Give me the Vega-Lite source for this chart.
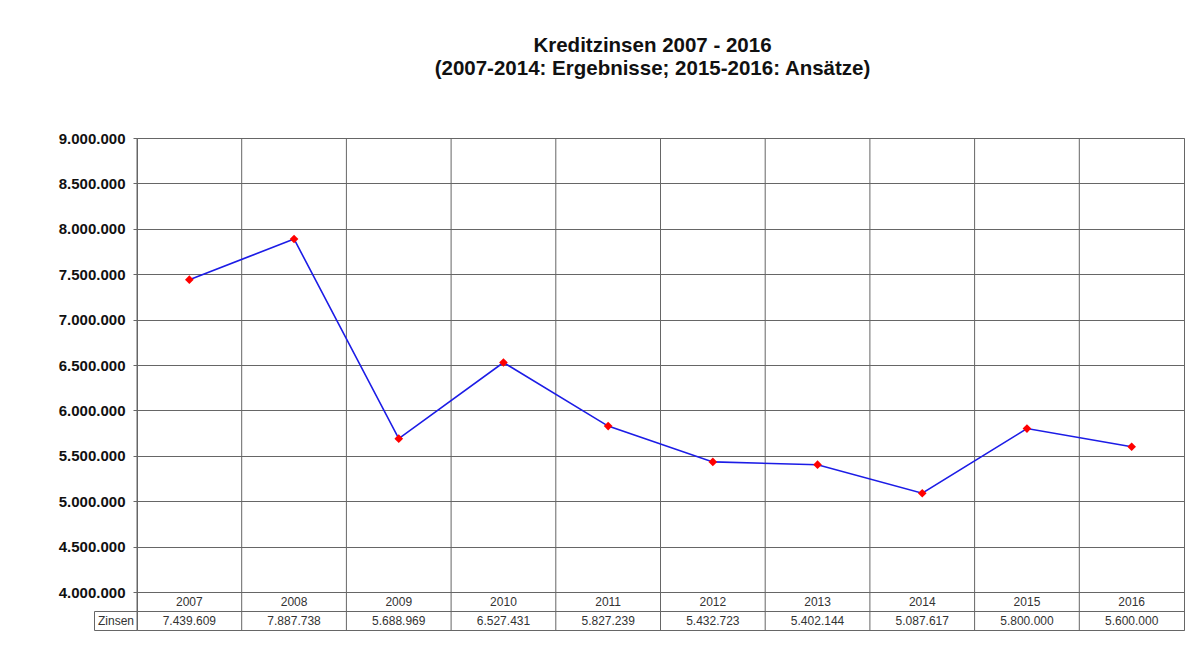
{
  "$schema": "https://vega.github.io/schema/vega-lite/v6.json",
  "width": 1047,
  "height": 492,
  "autosize": {"type": "none"},
  "padding": {"left": 137, "top": 138, "right": 20, "bottom": 29},
  "background": "white",
  "config": {
    "locale": {"number": {"decimal": ",", "thousands": ".", "grouping": [3], "currency": ["", " €"]}},
    "view": {"stroke": "#666666", "strokeWidth": 1},
    "font": "Liberation Sans"
  },
  "title": {
    "text": ["Kreditzinsen 2007 - 2016", "(2007-2014: Ergebnisse; 2015-2016: Ansätze)"],
    "font": "Liberation Sans",
    "fontSize": 20.5,
    "fontWeight": "bold",
    "color": "#111111",
    "lineHeight": 23,
    "anchor": "middle",
    "frame": "group",
    "dx": -8,
    "offset": 52
  },
  "data": {
    "values": [
      {"Jahr": "2007", "Zinsen": 7439609},
      {"Jahr": "2008", "Zinsen": 7887738},
      {"Jahr": "2009", "Zinsen": 5688969},
      {"Jahr": "2010", "Zinsen": 6527431},
      {"Jahr": "2011", "Zinsen": 5827239},
      {"Jahr": "2012", "Zinsen": 5432723},
      {"Jahr": "2013", "Zinsen": 5402144},
      {"Jahr": "2014", "Zinsen": 5087617},
      {"Jahr": "2015", "Zinsen": 5800000},
      {"Jahr": "2016", "Zinsen": 5600000}
    ]
  },
  "layer": [
    {
      "mark": {"type": "rule", "color": "#666666", "strokeWidth": 1},
      "encoding": {
        "x": {"field": "Jahr", "type": "ordinal", "bandPosition": 0, "axis": null}
      }
    },
    {
      "layer": [
        {"mark": {"type": "line", "color": "#1c1ce6", "strokeWidth": 1.6}},
        {"mark": {"type": "point", "shape": "diamond", "filled": true, "color": "#ff0000", "size": 75, "opacity": 1}}
      ],
      "encoding": {
        "x": {
          "field": "Jahr",
          "type": "ordinal",
          "scale": {"paddingInner": 0, "paddingOuter": 0},
          "axis": null
        },
        "y": {
          "field": "Zinsen",
          "type": "quantitative",
          "scale": {"domain": [4000000, 9000000], "range": [454, 0], "nice": false, "zero": false},
          "axis": {
            "values": [4000000, 4500000, 5000000, 5500000, 6000000, 6500000, 7000000, 7500000, 8000000, 8500000, 9000000],
            "format": ",d",
            "title": null,
            "grid": true,
            "gridColor": "#666666",
            "gridOpacity": 1,
            "tickSize": 4,
            "tickColor": "#666666",
            "domain": false,
            "labelFont": "Liberation Sans",
            "labelFontWeight": "bold",
            "labelFontSize": 15,
            "labelColor": "#111111",
            "labelPadding": 8
          }
        }
      }
    },
    {
      "mark": {"type": "text", "font": "Liberation Sans", "fontSize": 12, "color": "#333333"},
      "encoding": {
        "x": {
          "field": "Jahr",
          "type": "ordinal",
          "axis": {"orient": "bottom", "grid": false, "ticks": false, "tickSize": 0, "domain": false, "labelPadding": -28.5, "labelBaseline": "middle", "labelFont": "Liberation Sans", "labelFontSize": 12, "labelColor": "#333333", "labelAngle": 0, "title": null}
        },
        "y": {
          "datum": "Zinsen",
          "type": "nominal",
          "scale": {"domain": ["Zinsen"], "range": [473, 492], "paddingInner": 0, "paddingOuter": 0},
          "axis": {
            "orient": "left",
            "offset": 43,
            "title": null,
            "domain": true,
            "domainColor": "#666666",
            "tickBand": "extent",
            "tickSize": -43,
            "tickColor": "#666666",
            "grid": true,
            "gridColor": "#666666",
            "gridOpacity": 1,
            "labelAlign": "center",
            "labelPadding": 21.5,
            "labelBaseline": "middle",
            "labelFont": "Liberation Sans",
            "labelFontSize": 12,
            "labelColor": "#333333"
          }
        },
        "text": {"field": "Zinsen", "type": "quantitative", "format": ",d"}
      }
    }
  ],
  "resolve": {"scale": {"y": "independent"}, "axis": {"x": "independent"}}
}
